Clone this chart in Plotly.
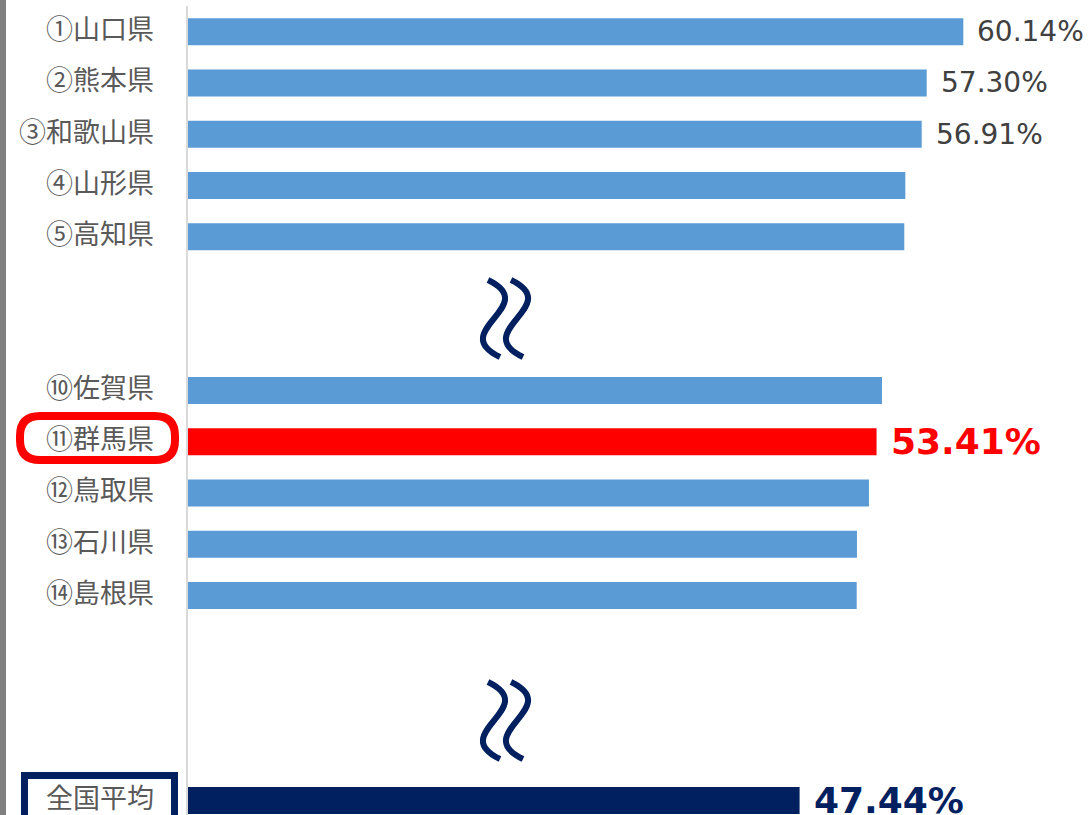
import plotly.graph_objects as go

# ---- data ----
rows = ["①山口県", "②熊本県", "③和歌山県", "④山形県", "⑤高知県", None, None,
        "⑩佐賀県", "⑪群馬県", "⑫鳥取県", "⑬石川県", "⑭島根県", None, None, None,
        "全国平均"]
values = [60.14, 57.30, 56.91, 55.64, 55.56, None, None,
          53.83, 53.41, 52.82, 51.89, 51.87, None, None, None,
          47.44]
labels = ["60.14%", "57.30%", "56.91%", None, None, None, None,
          None, "53.41%", None, None, None, None, None, None,
          "47.44%"]
highlight = "⑪群馬県"
average = "全国平均"

BLUE = "#5b9bd5"
RED = "#ff0000"
NAVY = "#002060"

slots = [i for i, r in enumerate(rows) if r is not None]
names = [rows[i] for i in slots]
vals = [values[i] for i in slots]
colors = [RED if n == highlight else NAVY if n == average else BLUE for n in names]

fig = go.Figure()
fig.add_trace(go.Bar(
    x=vals, y=slots, orientation="h", width=0.527,
    marker=dict(color=colors, line=dict(width=0)),
    hoverinfo="skip", showlegend=False,
))

# category labels (left of the axis)
for s, n in zip(slots, names):
    fig.add_annotation(x=0, xref="paper", y=s, yref="y", text=n,
                       showarrow=False, xanchor="right", yanchor="middle",
                       xshift=-32, yshift=4,
                       font=dict(family="Noto Sans CJK JP", size=27,
                                 color="#595959"))

# value labels
for i, lab in enumerate(labels):
    if lab is None:
        continue
    n = rows[i]
    if n == highlight:
        font = dict(family="DejaVu Sans", size=36, color=RED, weight="bold")
    elif n == average:
        font = dict(family="DejaVu Sans", size=36, color=NAVY, weight="bold")
    else:
        font = dict(family="DejaVu Sans", size=28, color="#404040")
    fig.add_annotation(x=values[i], y=i, text=lab, showarrow=False,
                       xanchor="left", yanchor="middle", xshift=12,
                       font=font)

W, H = 1092, 815
ML, MT, MR, MB = 188, 6, 0, 0
PW, PH = W - ML - MR, H - MT - MB


def px(x):
    return (x - ML) / PW


def py(y):
    return 1 - (y - MT) / PH


# left gray bar
fig.add_shape(type="rect", xref="paper", yref="paper",
              x0=px(0), x1=px(6), y0=py(H + 5), y1=py(-5),
              fillcolor="#7f7f7f", line=dict(width=0), layer="above")


def squiggle(cx, top):
    # S-shaped wave, defined in image pixels, converted to paper coords
    pts = [(cx - 17, top), (cx + 37, top + 26), (cx - 59, top + 51), (cx - 5, top + 77)]
    return "M {:.5f},{:.5f} C {:.5f},{:.5f} {:.5f},{:.5f} {:.5f},{:.5f}".format(
        px(pts[0][0]), py(pts[0][1]), px(pts[1][0]), py(pts[1][1]),
        px(pts[2][0]), py(pts[2][1]), px(pts[3][0]), py(pts[3][1]))


for top in (280, 682):
    for cx in (505, 528):
        fig.add_shape(type="path", xref="paper", yref="paper",
                      path=squiggle(cx, top),
                      line=dict(color=NAVY, width=6), layer="above")

# red rounded box around highlighted label
x0, x1, y0, y1, r = 20, 175, 416, 460, 20
d = (f"M {px(x0 + r)},{py(y0)} L {px(x1 - r)},{py(y0)} "
     f"Q {px(x1)},{py(y0)} {px(x1)},{py(y0 + r)} L {px(x1)},{py(y1 - r)} "
     f"Q {px(x1)},{py(y1)} {px(x1 - r)},{py(y1)} L {px(x0 + r)},{py(y1)} "
     f"Q {px(x0)},{py(y1)} {px(x0)},{py(y1 - r)} L {px(x0)},{py(y0 + r)} "
     f"Q {px(x0)},{py(y0)} {px(x0 + r)},{py(y0)} Z")
fig.add_shape(type="path", xref="paper", yref="paper", path=d,
              line=dict(color=RED, width=8), layer="above")

# navy box around average label
fig.add_shape(type="rect", xref="paper", yref="paper",
              x0=px(24.5), x1=px(174.5), y0=py(830), y1=py(775.5),
              line=dict(color=NAVY, width=7), layer="above")

fig.update_layout(
    width=W, height=H,
    margin=dict(l=ML, r=MR, t=MT, b=MB, pad=0, autoexpand=False),
    paper_bgcolor="white", plot_bgcolor="white",
    xaxis=dict(range=[0, PW / 12.892], visible=False, fixedrange=True,
               automargin=False),
    yaxis=dict(range=[15.284, -0.5015], showticklabels=False,
               showline=True, linecolor="#d9d9d9", linewidth=2,
               showgrid=False, zeroline=False, ticks="", automargin=False,
               fixedrange=True),
    showlegend=False,
)

fig.write_html("out.html", config={"displayModeBar": False},
               post_script="document.body.style.margin='0';"
                           "document.body.style.overflow='hidden';")
